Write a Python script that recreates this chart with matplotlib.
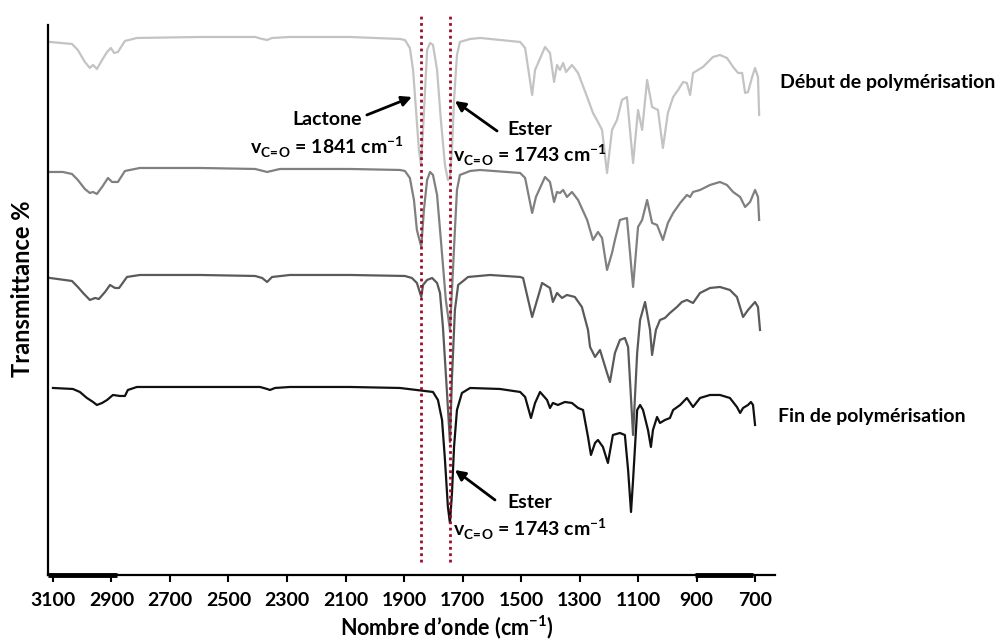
import matplotlib
matplotlib.use("Agg")
import matplotlib.pyplot as plt

plt.rcParams['font.family'] = ['Lato', 'DejaVu Sans']
plt.rcParams['font.weight'] = 'bold'
plt.rcParams['mathtext.fontset'] = 'custom'
plt.rcParams['mathtext.rm'] = 'Lato'
plt.rcParams['mathtext.bf'] = 'Lato:bold'

# spectra (transmittance, arbitrary stacked units)
wn_debut = [3110, 3035, 3015, 2991, 2974, 2963, 2950, 2932, 2915, 2902,
            2891, 2878, 2854, 2813, 2597, 2409, 2385, 2368, 2351, 2290,
            2085, 1914, 1897, 1880, 1869, 1859, 1849, 1842, 1835, 1828,
            1821, 1811, 1801, 1787, 1774, 1760, 1750, 1743, 1736, 1729,
            1719, 1709, 1674, 1640, 1503, 1486, 1462, 1452, 1418, 1401,
            1387, 1377, 1367, 1356, 1346, 1326, 1305, 1274, 1254, 1237,
            1223, 1206, 1189, 1172, 1155, 1138, 1117, 1100, 1086, 1069,
            1052, 1032, 1015, 998, 980, 963, 946, 933, 922, 912,
            895, 878, 844, 820, 796, 775, 758, 744, 734, 724,
            710, 700, 690, 686]
t_debut = [533, 531, 525, 513, 507, 510, 506, 515, 523, 527,
           522, 523, 534, 537, 538, 538, 536, 535, 537, 538,
           538, 536, 535, 527, 505, 465, 425, 410, 445, 485,
           525, 532, 530, 505, 455, 410, 395, 397, 425, 475,
           520, 533, 536, 537, 533, 527, 480, 505, 528, 522,
           493, 510, 505, 512, 503, 510, 502, 478, 462, 453,
           445, 402, 445, 455, 475, 478, 412, 465, 445, 495,
           468, 465, 427, 462, 478, 485, 493, 492, 480, 502,
           505, 508, 518, 520, 517, 508, 502, 502, 482, 483,
           498, 507, 498, 460]

wn_2 = [3110, 3066, 3035, 3015, 2991, 2974, 2963, 2950, 2932, 2912,
        2898, 2878, 2854, 2803, 2597, 2409, 2368, 2324, 2085, 1914,
        1897, 1880, 1866, 1856, 1841, 1832, 1821, 1811, 1801, 1787,
        1774, 1757, 1743, 1736, 1726, 1719, 1709, 1674, 1640, 1503,
        1486, 1462, 1449, 1418, 1401, 1387, 1377, 1367, 1356, 1343,
        1326, 1305, 1274, 1254, 1237, 1223, 1206, 1189, 1179, 1162,
        1138, 1117, 1100, 1086, 1069, 1052, 1035, 1015, 998, 980,
        956, 933, 922, 912, 888, 854, 820, 796, 775, 751,
        734, 717, 700, 690, 686]
t_2 = [403, 403, 401, 395, 386, 382, 383, 381, 388, 397,
       393, 393, 404, 407, 407, 406, 403, 406, 406, 405,
       404, 397, 375, 345, 328, 365, 395, 403, 400, 380,
       335, 275, 245, 285, 345, 385, 400, 404, 405, 402,
       397, 362, 378, 398, 393, 373, 383, 382, 385, 378,
       383, 375, 355, 335, 343, 337, 305, 322, 335, 355,
       357, 288, 348, 355, 375, 352, 350, 335, 352, 362,
       372, 380, 378, 383, 385, 390, 393, 390, 383, 378,
       368, 373, 385, 378, 355]

wn_3 = [3110, 3035, 3015, 2997, 2974, 2956, 2943, 2922, 2905, 2888,
        2874, 2847, 2803, 2597, 2409, 2385, 2368, 2351, 2290, 2085,
        1897, 1873, 1856, 1841, 1835, 1821, 1804, 1787, 1777, 1767,
        1753, 1743, 1736, 1726, 1715, 1702, 1681, 1606, 1503, 1493,
        1462, 1428, 1401, 1391, 1377, 1360, 1343, 1316, 1292, 1271,
        1264, 1247, 1230, 1206, 1196, 1179, 1162, 1145, 1134, 1117,
        1103, 1093, 1076, 1059, 1052, 1039, 1025, 1008, 991, 967,
        950, 933, 912, 888, 854, 820, 786, 762, 741, 724,
        700, 690, 683]
t_3 = [297, 294, 288, 282, 275, 277, 276, 283, 290, 287,
       287, 298, 300, 300, 299, 297, 293, 298, 300, 300,
       299, 297, 292, 278, 290, 295, 297, 292, 282, 248,
       182, 133, 198, 265, 290, 293, 298, 300, 298, 297,
       258, 292, 287, 273, 282, 277, 280, 278, 268, 245,
       228, 218, 225, 202, 193, 222, 235, 237, 228, 140,
       222, 255, 273, 245, 220, 245, 255, 257, 262, 268,
       273, 275, 272, 282, 287, 288, 285, 278, 258, 265,
       273, 268, 245]

wn_fin = [3100, 3032, 3008, 2984, 2963, 2950, 2932, 2915, 2895, 2871,
          2854, 2844, 2813, 2597, 2392, 2368, 2358, 2341, 2290, 2085,
          1914, 1801, 1784, 1770, 1760, 1750, 1743, 1736, 1729, 1719,
          1702, 1674, 1572, 1503, 1486, 1466, 1452, 1435, 1411, 1401,
          1391, 1374, 1350, 1326, 1305, 1288, 1271, 1261, 1247, 1237,
          1220, 1203, 1186, 1162, 1145, 1134, 1124, 1117, 1103, 1093,
          1083, 1066, 1056, 1049, 1035, 1025, 1008, 991, 980, 956,
          933, 912, 888, 854, 820, 786, 762, 751, 741, 724,
          714, 707, 700]
t_fin = [187, 186, 183, 177, 173, 170, 172, 175, 180, 179,
         179, 185, 188, 188, 188, 186, 185, 187, 188, 188,
         187, 183, 175, 155, 115, 68, 52, 82, 128, 165,
         182, 187, 186, 183, 178, 157, 172, 183, 175, 167,
         172, 170, 173, 172, 167, 165, 138, 120, 132, 135,
         128, 112, 140, 142, 140, 105, 63, 95, 165, 170,
         165, 145, 128, 145, 158, 152, 155, 157, 165, 170,
         177, 168, 177, 180, 180, 177, 168, 162, 167, 170,
         173, 170, 150]

xticks = [3100, 2900, 2700, 2500, 2300, 2100, 1900, 1700, 1500, 1300, 1100, 900, 700]
nu_lactone = 1841
nu_ester = 1743

fig = plt.figure(figsize=(10.02, 6.42), dpi=100)
ax = fig.add_axes([0.0479, 0.1044, 0.7255, 0.8567])

ax.plot(wn_debut, t_debut, color='#c3c3c3', lw=1.6)
ax.plot(wn_2, t_2, color='#808080', lw=1.6)
ax.plot(wn_3, t_3, color='#5a5a5a', lw=1.6)
ax.plot(wn_fin, t_fin, color='#111111', lw=1.6)

for nu in (nu_lactone, nu_ester):
    ax.vlines(nu, 13, 560, colors='#9a0c2a', linestyles=(0, (1, 1.3)), lw=2, clip_on=False)

ax.set_xlim(3117, 632)
ax.set_ylim(0, 550)
ax.set_xticks(xticks)
ax.set_yticks([])
ax.tick_params(axis='x', direction='out', length=5, width=1.5, pad=7, labelsize=14)
for s in ('top', 'right'):
    ax.spines[s].set_visible(False)
for s in ('left', 'bottom'):
    ax.spines[s].set_linewidth(1.6)

# thicker segments on the axis as in the original
ax.plot([3117, 2880], [0, 0], color='black', lw=3.5, clip_on=False, solid_capstyle='butt')
ax.plot([905, 708], [0, 0], color='black', lw=3.5, clip_on=False, solid_capstyle='butt')

fig.text(0.446, 0.023, 'Nombre d’onde (cm$^{\\mathbf{-1}}$)', ha='center', va='center', fontsize=15.5, fontweight='bold')
fig.text(0.022, 0.55, 'Transmittance %', rotation=90, ha='center', va='center', fontsize=17, fontweight='bold')

sub = 'v$_{\\mathrm{C\\!=\\!O}}$ = %d cm$^{\\mathbf{-1}}$'
lab = dict(ha='center', va='center', fontsize=14, fontweight='bold')
arw = dict(arrowstyle='-|>', color='black', lw=2, shrinkA=0, shrinkB=0, mutation_scale=15)

ax.text(2163, 455, 'Lactone', **lab)
ax.text(2163, 428, sub % nu_lactone, **lab)
ax.annotate('', xy=(1873, 478), xytext=(2027, 460), arrowprops=arw)

ax.text(1469, 445, 'Ester', **lab)
ax.text(1469, 420, sub % nu_ester, **lab)
ax.annotate('', xy=(1726, 474), xytext=(1582, 444), arrowprops=arw)

ax.text(1469, 72, 'Ester', **lab)
ax.text(1469, 46, sub % nu_ester, **lab)
ax.annotate('', xy=(1726, 105), xytext=(1589, 75), arrowprops=arw)

fig.text(0.778, 0.871, 'Début de polymérisation', ha='left', va='center', fontsize=14, fontweight='bold')
fig.text(0.776, 0.352, 'Fin de polymérisation', ha='left', va='center', fontsize=14, fontweight='bold')

fig.savefig('out.png', dpi=100)
